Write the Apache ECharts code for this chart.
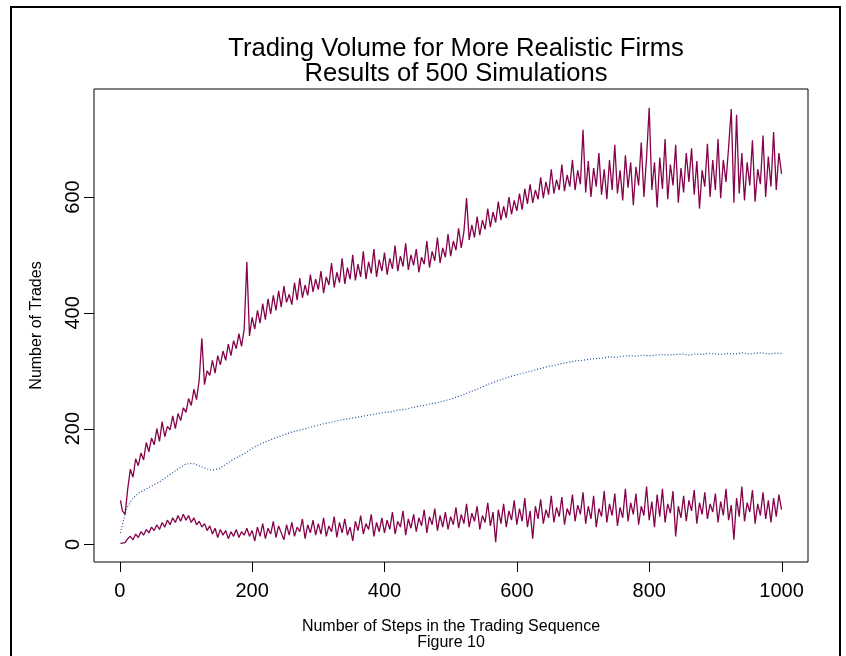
<!DOCTYPE html>
<html>
<head>
<meta charset="utf-8">
<script src="https://cdn.jsdelivr.net/npm/echarts@6/dist/echarts.min.js"></script>
<style>
  html, body { margin: 0; padding: 0; background: #fff; }
  #chart { width: 846px; height: 656px; }
</style>
</head>
<body>
<div id="chart"></div>
<script>
// Trading volume per step, sampled every 4 steps (0..1000) for the two
// red series and every 10 steps for the blue average line.
const titleLines = ['Trading Volume for More Realistic Firms', 'Results of 500 Simulations'];
const xAxisTitle = 'Number of Steps in the Trading Sequence';
const figureCaption = 'Figure 10';
const yAxisTitle = 'Number of Trades';
const xTicks = [0, 200, 400, 600, 800, 1000];
const yTicks = [0, 200, 400, 600];

const redStep = 4;
const blueStep = 10;

const upperTrades = [
  76, 58, 52, 96, 130, 116, 148, 136, 158, 146, 176, 160, 184, 172, 200, 178, 212, 186, 204, 198, 222, 200, 226, 214, 236,
  228, 252, 240, 268, 250, 284, 356, 276, 300, 292, 318, 296, 326, 310, 334, 318, 346, 326, 352, 338, 364, 342, 372, 488, 360,
  392, 372, 404, 382, 416, 388, 424, 398, 430, 404, 438, 410, 446, 418, 432, 414, 452, 422, 460, 426, 448, 430, 466, 436, 458,
  440, 472, 434, 462, 448, 486, 444, 470, 452, 494, 450, 478, 458, 500, 456, 484, 462, 506, 458, 488, 468, 510, 462, 492, 472,
  504, 466, 494, 476, 516, 472, 498, 480, 520, 474, 500, 482, 510, 470, 496, 484, 524, 478, 506, 490, 530, 486, 512, 496, 536,
  498, 524, 508, 546, 512, 540, 598, 526, 552, 530, 566, 534, 560, 544, 580, 548, 574, 556, 592, 560, 584, 564, 600, 570, 594,
  576, 606, 578, 614, 588, 622, 590, 612, 596, 634, 598, 626, 604, 648, 606, 630, 612, 656, 610, 638, 618, 664, 612, 646, 622,
  716, 608, 662, 600, 650, 618, 676, 604, 648, 596, 664, 612, 690, 606, 646, 594, 672, 616, 660, 586, 652, 620, 694, 600, 668,
  754, 612, 660, 582, 668, 614, 700, 596, 656, 620, 690, 590, 650, 608, 676, 626, 684, 604, 662, 580, 646, 618, 692, 600, 664,
  612, 700, 598, 664, 626, 686, 752, 590, 742, 606, 676, 594, 660, 620, 698, 592, 648, 622, 706, 600, 670, 618, 712, 612, 676, 640
];

const lowerTrades = [
  2, 4, 3, 10, 14, 8, 18, 12, 22, 16, 26, 20, 30, 24, 34, 26, 38, 30, 42, 34, 46, 38, 50, 40, 52,
  42, 50, 38, 46, 34, 40, 30, 36, 24, 32, 18, 28, 12, 26, 16, 24, 10, 22, 14, 26, 12, 22, 16, 28, 14,
  24, 6, 30, 14, 36, 10, 28, 18, 40, 12, 32, 20, 8, 34, 16, 38, 14, 30, 22, 44, 10, 34, 20, 42, 16,
  36, 18, 46, 14, 32, 22, 48, 12, 38, 20, 44, 16, 30, 6, 40, 24, 50, 18, 36, 26, 52, 14, 38, 22, 46,
  20, 42, 26, 56, 18, 40, 30, 58, 16, 44, 28, 52, 22, 46, 32, 60, 20, 48, 34, 62, 24, 50, 30, 56, 26,
  48, 34, 64, 28, 52, 36, 70, 30, 54, 40, 66, 26, 50, 38, 72, 32, 56, 4, 60, 36, 70, 30, 58, 42, 76,
  34, 62, 40, 80, 30, 58, 10, 66, 44, 78, 36, 60, 46, 84, 38, 64, 48, 82, 34, 62, 50, 86, 40, 68, 52,
  90, 36, 66, 44, 84, 30, 62, 48, 92, 38, 70, 50, 88, 32, 64, 46, 96, 40, 72, 52, 88, 34, 66, 50, 100,
  42, 74, 30, 86, 48, 96, 38, 70, 54, 92, 14, 66, 46, 84, 40, 76, 58, 94, 36, 72, 52, 90, 44, 70, 56,
  88, 38, 74, 50, 96, 42, 68, 8, 80, 48, 100, 40, 72, 56, 94, 36, 70, 50, 90, 44, 76, 38, 80, 48, 86, 60
];

const averageTrades = [
  20, 62, 80, 90, 96, 102, 108, 116, 124, 132,
  139, 140, 136, 131, 128, 131, 138, 146, 152, 158,
  166, 172, 177, 182, 186, 190, 194, 197, 200, 203,
  206, 209, 211, 214, 216, 218, 220, 222, 224, 226,
  228, 229, 232, 233, 236, 238, 240, 243, 245, 248,
  251, 255, 259, 264, 268, 273, 278, 282, 286, 290,
  293, 296, 299, 302, 305, 308, 310, 313, 315, 317,
  318, 320, 321, 322, 324, 323, 325, 326, 325, 327,
  326, 327, 328, 327, 328, 329, 327, 329, 328, 330,
  329, 328, 330, 329, 331, 329, 330, 331, 329, 330,
  330
];

// pair each value with its step number (the very first step is 1)
function toPoints(values, step) {
  return values.map((v, i) => [i === 0 ? 1 : i * step, v]);
}

const RED = '#85034b';
const BLUE = '#1b5296';
const FONT = '"Liberation Sans", Arial, Helvetica, sans-serif';

// Axis ranges padded by 4% on each side of the data, R style.
const xRange = [-38.96, 1039.96];
const yRange = [-30.3, 786.5];
const TICK = 10;

const chart = echarts.init(document.getElementById('chart'), null, { renderer: 'canvas' });

chart.setOption({
  animation: false,
  backgroundColor: '#ffffff',
  textStyle: { fontFamily: FONT, color: '#000' },
  title: [
    {
      text: titleLines[0],
      left: 451, top: 31, textAlign: 'center',
      textStyle: { fontFamily: FONT, fontSize: 25.6, fontWeight: 'normal', color: '#000' }
    },
    {
      text: titleLines[1],
      left: 451, top: 56, textAlign: 'center',
      textStyle: { fontFamily: FONT, fontSize: 25.6, fontWeight: 'normal', color: '#000' }
    }
  ],
  grid: {
    left: 94, right: 38, top: 89, bottom: 94,
    show: true, borderColor: '#000', borderWidth: 1, backgroundColor: 'transparent'
  },
  xAxis: {
    type: 'value',
    min: xRange[0], max: xRange[1],
    name: xAxisTitle + '\n' + figureCaption,
    nameLocation: 'middle',
    nameGap: 57,
    nameMoveOverlap: false,
    nameTextStyle: { fontFamily: FONT, fontSize: 16, color: '#000', lineHeight: 16 },
    axisLine: { show: false, onZero: false },
    splitLine: { show: false },
    axisTick: { show: false },
    axisLabel: {
      show: true, margin: 19, fontFamily: FONT, fontSize: 20, color: '#000',
      customValues: xTicks, formatter: v => String(v)
    }
  },
  yAxis: {
    type: 'value',
    min: yRange[0], max: yRange[1],
    name: yAxisTitle,
    nameLocation: 'middle',
    nameGap: 49,
    nameMoveOverlap: false,
    nameRotate: 90,
    nameTextStyle: { fontFamily: FONT, fontSize: 16, color: '#000' },
    axisLine: { show: false, onZero: false },
    splitLine: { show: false },
    axisTick: { show: false },
    axisLabel: {
      show: true, rotate: 90, margin: 11, fontFamily: FONT, fontSize: 20, color: '#000',
      customValues: yTicks, formatter: v => String(v)
    }
  },
  series: [
    {
      type: 'line', name: 'upper', data: toPoints(upperTrades, redStep),
      symbol: 'none', lineStyle: { color: RED, width: 1.3 }, z: 3
    },
    {
      type: 'line', name: 'average', data: toPoints(averageTrades, blueStep),
      symbol: 'none', lineStyle: { color: BLUE, width: 1.2, type: [1, 2] }, z: 2
    },
    {
      type: 'line', name: 'lower', data: toPoints(lowerTrades, redStep),
      symbol: 'none', lineStyle: { color: RED, width: 1.3 }, z: 3
    }
  ]
});

// Outward tick marks hanging off the plot frame, placed through the series' axes.
function toPx(x, y) {
  let p = chart.convertToPixel({ seriesIndex: 0 }, [x, y]);
  if (!p || !isFinite(p[0]) || !isFinite(p[1])) {
    p = chart.convertToPixel({ gridIndex: 0 }, [x, y]);
  }
  return p;
}
const frameBottom = Math.round(toPx(0, yRange[0])[1]);
const frameLeft = Math.round(toPx(xRange[0], 0)[0]);
const tickMarks = [];
xTicks.forEach(v => {
  const px = Math.round(toPx(v, 0)[0]) + 0.5;
  tickMarks.push({
    type: 'line', silent: true, z: 10,
    shape: { x1: px, y1: frameBottom, x2: px, y2: frameBottom + TICK },
    style: { stroke: '#000', lineWidth: 1 }
  });
});
yTicks.forEach(v => {
  const py = Math.round(toPx(0, v)[1]) + 0.5;
  tickMarks.push({
    type: 'line', silent: true, z: 10,
    shape: { x1: frameLeft, y1: py, x2: frameLeft - TICK, y2: py },
    style: { stroke: '#000', lineWidth: 1 }
  });
});

chart.setOption({
  graphic: tickMarks.concat([
    {
      type: 'rect', silent: true, z: 10,
      shape: { x: 11, y: 7, width: 829, height: 700 },
      style: { fill: 'none', stroke: '#000', lineWidth: 2 }
    }
  ])
});
</script>
</body>
</html>
